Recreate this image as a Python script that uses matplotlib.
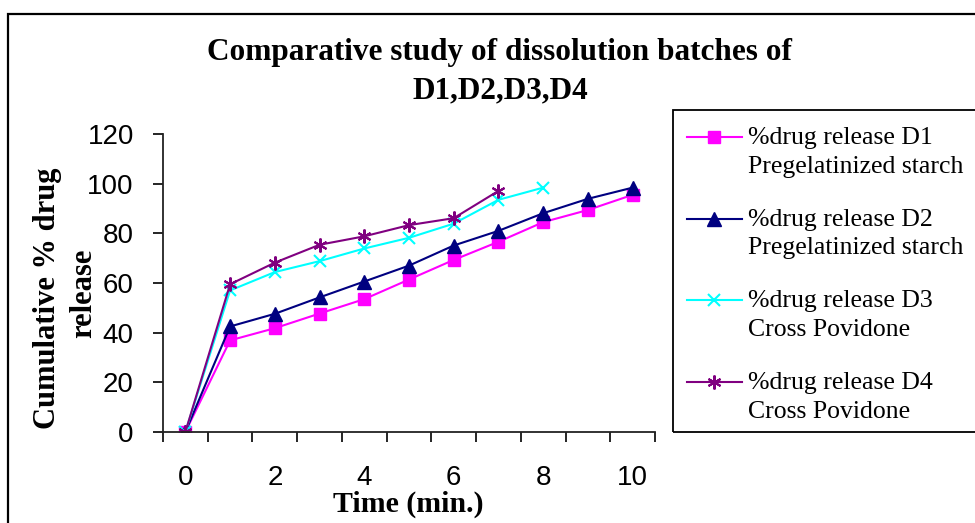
import numpy as np
import matplotlib.pyplot as plt
from matplotlib.legend_handler import HandlerLine2D
from matplotlib.patches import Rectangle

time_min = [0, 1, 2, 3, 4, 5, 6, 7, 8, 9, 10]
d1 = [0, 36.9, 41.8, 47.7, 53.5, 61.4, 69.3, 76.6, 84.5, 89.4, 95.5]
d2 = [0, 42.5, 47.6, 54.2, 60.6, 67.0, 75.1, 81.0, 88.1, 93.9, 98.4]
d3 = [0, 57.0, 64.4, 68.8, 73.9, 78.2, 83.9, 93.5, 98.4]
d4 = [0, 59.5, 68.2, 75.4, 78.8, 83.3, 86.1, 97.1]

labels = ['%drug release D1\nPregelatinized starch',
          '%drug release D2\nPregelatinized starch',
          '%drug release D3\nCross Povidone',
          '%drug release D4\nCross Povidone']

W, H = 975, 523
fig = plt.figure(figsize=(W / 100, H / 100), dpi=100)
ax = fig.add_axes([163 / W, 1 - 432 / H, (655 - 163) / W, (432 - 134) / H])

l1, = ax.plot(time_min, d1, '-s', c='#ff00ff', lw=1.5, ms=9, label=labels[0])
l2, = ax.plot(time_min, d2, '-^', c='#000080', lw=1.5, ms=10, label=labels[1])
l3, = ax.plot(time_min[:len(d3)], d3, '-x', c='#00ffff', lw=1.5, ms=9, mew=1.5, label=labels[2])
l4, = ax.plot(time_min[:len(d4)], d4, '-', marker=(6, 2, 0), c='#800080', lw=1.5, ms=10, mew=1.5, label=labels[3])

ax.set_xlim(-0.5, 10.5)
ax.set_ylim(0, 120)
ax.set_yticks(np.arange(0, 121, 20))
ax.set_xticks(np.arange(0, 11, 2))
ax.set_xticks(np.arange(-0.5, 10.6, 1), minor=True)
ax.tick_params(axis='x', which='major', length=0, pad=24, labelsize=20)
ax.tick_params(axis='x', which='minor', length=7, width=1.2, direction='out')
ax.tick_params(axis='y', length=7, width=1.2, direction='out', pad=14, labelsize=20)
for lab in ax.get_xticklabels() + ax.get_yticklabels():
    lab.set_family('Liberation Sans')
for s in ['top', 'right']:
    ax.spines[s].set_visible(False)
for s in ['left', 'bottom']:
    ax.spines[s].set_linewidth(1.3)
    ax.spines[s].set_color('#222222')
ax.spines['bottom'].set_bounds(-0.5, 10.5)

serif = 'Liberation Serif'
fig.text(500 / W, 1 - 38 / H, 'Comparative study of dissolution batches of\nD1,D2,D3,D4',
         ha='center', va='top', ma='center', fontsize=22.5, fontweight='bold',
         family=serif, linespacing=1.42)
# y axis title, two lines
fig.text(48 / W, 1 - 298 / H, 'Cumulative % drug', rotation=90,
         ha='center', va='center', fontsize=22, fontweight='bold', family=serif)
fig.text(84 / W, 1 - 293 / H, 'release', rotation=90,
         ha='center', va='center', fontsize=22, fontweight='bold', family=serif)
fig.text(408 / W, 1 - 512 / H, 'Time (min.)', ha='center', va='baseline',
         fontsize=21.5, fontweight='bold', family=serif)

# outer chart border and legend box
fig.patches.append(Rectangle((8 / W, -0.1), 1.2, 1 - 14 / H + 0.1, transform=fig.transFigure,
                             fill=False, ec='black', lw=1.6))
fig.patches.append(Rectangle((673 / W, 1 - 432 / H), 1.0, (432 - 110) / H, transform=fig.transFigure,
                             fill=False, ec='black', lw=1.3))


class FirstLineHandler(HandlerLine2D):
    def create_artists(self, legend, orig_handle, xdescent, ydescent, width, height, fontsize, trans):
        arts = super().create_artists(legend, orig_handle, xdescent, ydescent, width, height, fontsize, trans)
        for a in arts:
            a.set_ydata(np.asarray(a.get_ydata()) + 10.6)
        return arts


leg = fig.legend(handles=[l1, l2, l3, l4], loc='upper left',
                 bbox_to_anchor=(687 / W, 1 - 127 / H), bbox_transform=fig.transFigure,
                 frameon=False, borderpad=0, borderaxespad=0,
                 prop={'family': serif, 'size': 18.5},
                 handlelength=2.14, handletextpad=0.23, labelspacing=1.2,
                 handler_map={l: FirstLineHandler() for l in [l1, l2, l3, l4]})
for t in leg.get_texts():
    t.set_linespacing(1.4)

fig.savefig('out.png', dpi=100)
